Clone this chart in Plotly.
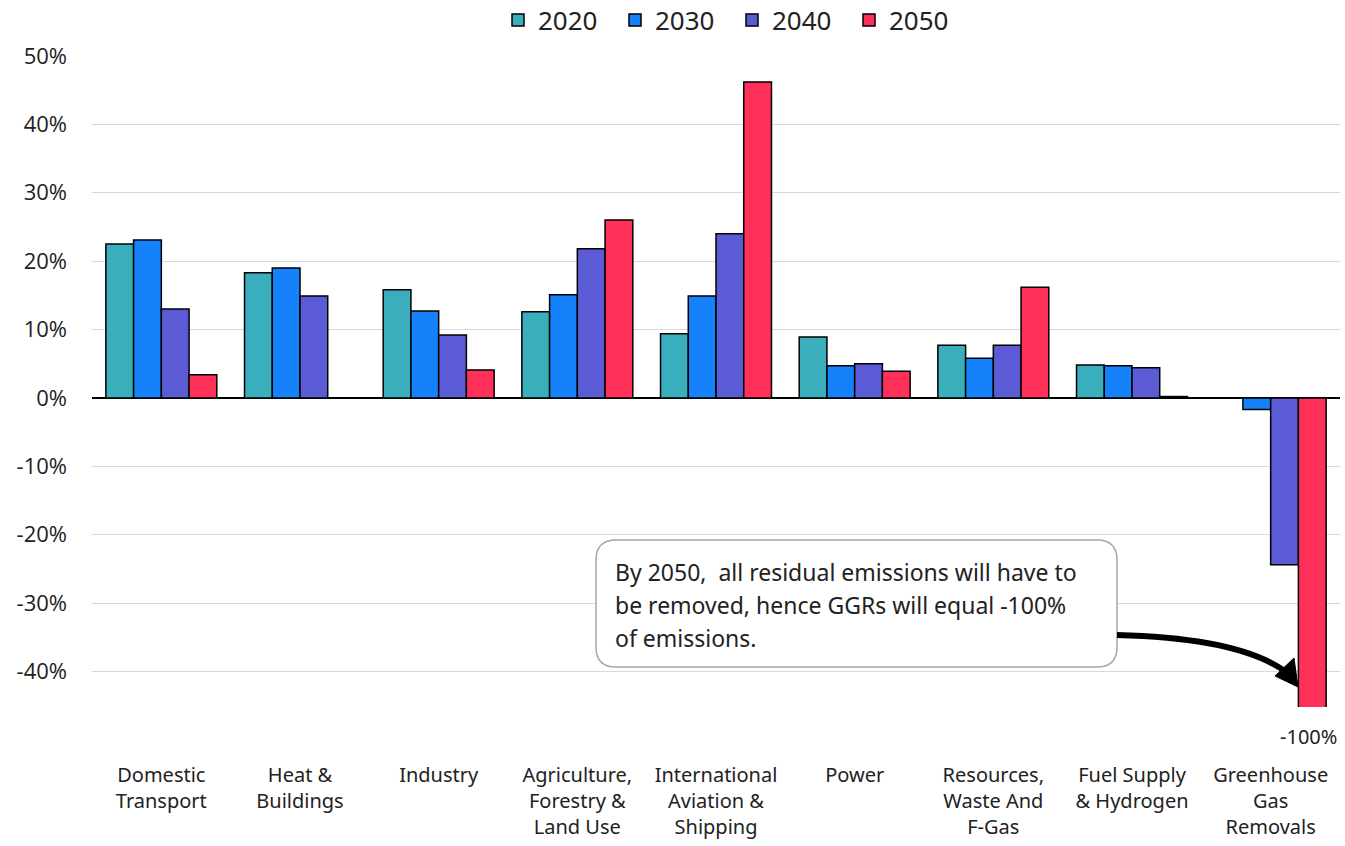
import plotly.graph_objects as go

categories = ["Domestic<br>Transport", "Heat &<br>Buildings", "Industry",
              "Agriculture,<br>Forestry &<br>Land Use", "International<br>Aviation &<br>Shipping",
              "Power", "Resources,<br>Waste And<br>F-Gas", "Fuel Supply<br>& Hydrogen",
              "Greenhouse<br>Gas<br>Removals"]
years = ["2020", "2030", "2040", "2050"]
v2020 = [22.5, 18.3, 15.8, 12.6, 9.4, 8.9, 7.7, 4.8, 0.0]
v2030 = [23.1, 19.0, 12.7, 15.1, 14.9, 4.7, 5.8, 4.7, -1.7]
v2040 = [13.0, 14.9, 9.2, 21.8, 24.0, 5.0, 7.7, 4.4, -24.4]
v2050 = [3.4, 0.0, 4.1, 26.0, 46.2, 3.9, 16.2, 0.2, -100.0]
colors = ["#3BAEBE", "#1581FB", "#5B5BD6", "#FF3159"]
ytick_vals = [-40, -30, -20, -10, 0, 10, 20, 30, 40, 50]
ytick_text = ["-40%", "-30%", "-20%", "-10%", "0%", "10%", "20%", "30%", "40%", "50%"]
note_lines = ["By 2050,  all residual emissions will have to",
              "be removed, hence GGRs will equal -100%",
              "of emissions."]
ggr_label = "-100%"

W, H = 1345, 846
L, R, T, B = 92, 1340, 56, 707

def px(x):
    return (x - L) / (R - L)

def py(y):
    return (B - y) / (B - T)

fig = go.Figure()
for name, vals, col in zip(years, [v2020, v2030, v2040, v2050], colors):
    fig.add_trace(go.Bar(x=categories, y=vals, name=name,
                         marker=dict(color=col, line=dict(color="black", width=1.5))))

shapes = []
x0, x1, y0, y1, r = 596, 1117, 540, 667, 20
path = (f"M {px(x0+r)},{py(y0)} L {px(x1-r)},{py(y0)} Q {px(x1)},{py(y0)} {px(x1)},{py(y0+r)} "
        f"L {px(x1)},{py(y1-r)} Q {px(x1)},{py(y1)} {px(x1-r)},{py(y1)} "
        f"L {px(x0+r)},{py(y1)} Q {px(x0)},{py(y1)} {px(x0)},{py(y1-r)} "
        f"L {px(x0)},{py(y0+r)} Q {px(x0)},{py(y0)} {px(x0+r)},{py(y0)} Z")
shapes.append(dict(type="path", xref="paper", yref="paper", path=path,
                   fillcolor="white", line=dict(color="#A6A6A6", width=1.5), layer="above"))
cpath = f"M {px(1117)},{py(635)} Q {px(1240)},{py(638)} {px(1286)},{py(672)}"
shapes.append(dict(type="path", xref="paper", yref="paper", path=cpath,
                   line=dict(color="black", width=6), layer="above"))
head = f"M {px(1298)},{py(687)} L {px(1275)},{py(676)} L {px(1294)},{py(658)} Z"
shapes.append(dict(type="path", xref="paper", yref="paper", path=head,
                   fillcolor="black", line=dict(color="black", width=1), layer="above"))

annotations = []
for i, line in enumerate(note_lines):
    annotations.append(dict(text=line, xref="paper", yref="paper", x=px(613), y=py(572 + 33 * i),
                            xanchor="left", yanchor="middle", showarrow=False,
                            font=dict(family="Noto Sans", size=23, color="#222222")))
annotations.append(dict(text=ggr_label, xref="x", yref="paper", x=categories[-1], xshift=38,
                        y=py(736), yanchor="middle", showarrow=False,
                        font=dict(family="Noto Sans", size=20, color="#222222")))

fig.update_layout(
    width=W, height=H,
    margin=dict(l=L, r=W - R, t=T, b=H - B, pad=0, autoexpand=False),
    paper_bgcolor="white", plot_bgcolor="white",
    barmode="group", bargap=0.2, bargroupgap=0,
    font=dict(family="Noto Sans", color="#222222"),
    legend=dict(orientation="h", x=px(498), y=py(20), xanchor="left", yanchor="middle",
                font=dict(family="Noto Sans", size=26, color="#222222"),
                entrywidth=72, entrywidthmode="pixels", bgcolor="rgba(0,0,0,0)"),
    xaxis=dict(showgrid=False, showline=False, ticks="", tickfont=dict(family="Noto Sans", size=20),
               ticklabelstandoff=54, fixedrange=True),
    yaxis=dict(range=[-45.2, 50], tickvals=ytick_vals, ticktext=ytick_text, showgrid=True,
               gridcolor="#D9D9D9", gridwidth=1, zeroline=True, zerolinecolor="black",
               zerolinewidth=2, tickfont=dict(family="Open Sans", size=22),
               ticklabelstandoff=24, showline=False, fixedrange=True),
    shapes=shapes, annotations=annotations,
)

fig.write_html("out.html", config={"displayModeBar": False},
               post_script="document.body.style.margin='0';")
